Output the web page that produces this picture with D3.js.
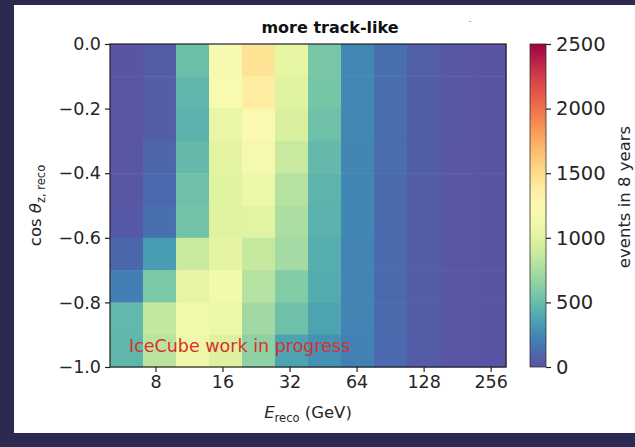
<!DOCTYPE html>
<html>
<head>
<meta charset="utf-8">
<script src="https://cdn.jsdelivr.net/npm/d3@7"></script>
<style>
  body { margin: 0; background: #2b2a50; }
  svg { display: block; }
  text { font-family: "DejaVu Sans", sans-serif; fill: #262626; }
</style>
</head>
<body>
<div id="plot"></div>
<script>
// reconstructed energy bin edges (GeV), 12 log bins
const eEdges = [5.0, 7.03, 9.89, 13.92, 19.58, 27.54, 38.74, 54.49, 76.65, 107.8, 151.7, 213.4, 300.0];
// cos(zenith) bin edges
const cosEdges = [-1.0, -0.9, -0.8, -0.7, -0.6, -0.5, -0.4, -0.3, -0.2, -0.1, 0.0];
// events per bin, rows from top (cos -0.1..0) down to bottom (cos -1..-0.9)
const counts = [
  [20, 55, 510, 1200, 1460, 1030, 560, 250, 140, 70, 35, 20],
  [25, 60, 460, 1190, 1390, 1000, 550, 250, 135, 65, 35, 20],
  [25, 60, 440, 1060, 1260, 960, 520, 250, 130, 65, 35, 20],
  [30, 100, 480, 1020, 1150, 880, 480, 245, 130, 65, 30, 20],
  [35, 115, 520, 1000, 1080, 800, 450, 240, 125, 60, 30, 20],
  [45, 140, 540, 990, 1010, 760, 440, 240, 125, 60, 30, 20],
  [110, 340, 880, 1020, 870, 730, 420, 235, 125, 60, 30, 20],
  [210, 570, 1040, 1120, 800, 600, 400, 230, 120, 60, 30, 20],
  [470, 860, 1120, 1080, 720, 520, 370, 230, 120, 60, 30, 20],
  [460, 820, 1100, 980, 640, 370, 290, 220, 115, 55, 30, 20]
];
const xTicks = [8, 16, 32, 64, 128, 256];
const yTicks = [0.0, -0.2, -0.4, -0.6, -0.8, -1.0];
const cTicks = [0, 500, 1000, 1500, 2000, 2500];

const W = 635, H = 447;
const plot = {left: 110, top: 44, width: 396, height: 323};
const cbar = {left: 530, width: 16};

const svg = d3.select("#plot").append("svg")
  .attr("width", W).attr("height", H);

// white figure area on the dark slide
svg.append("rect").attr("x", 14).attr("y", 5).attr("width", W - 14).attr("height", 428).attr("fill", "#ffffff");

const x = d3.scaleLog().base(2).domain([eEdges[0], eEdges[eEdges.length - 1]]).range([plot.left, plot.left + plot.width]);
const y = d3.scaleLinear().domain([-1, 0]).range([plot.top + plot.height, plot.top]);
const color = d3.scaleSequential(t => d3.interpolateSpectral(1 - t)).domain([0, 2500]);

// cells
const cells = [];
counts.forEach((row, r) => {
  const i = cosEdges.length - 2 - r;
  row.forEach((v, c) => cells.push({x0: eEdges[c], x1: eEdges[c + 1], y0: cosEdges[i], y1: cosEdges[i + 1], v: v}));
});
svg.append("g").selectAll("rect")
  .data(cells)
  .enter()
  .append("rect")
    .attr("x", d => x(d.x0))
    .attr("y", d => y(d.y1))
    .attr("width", d => x(d.x1) - x(d.x0) + 0.5)
    .attr("height", d => y(d.y0) - y(d.y1) + 0.5)
    .attr("fill", d => color(d.v));

// axes
const fmt = d3.format(".1f");
const yAxis = svg.append("g")
  .attr("transform", "translate(" + plot.left + ",0)")
  .call(d3.axisLeft(y).tickValues(yTicks).tickFormat(d => fmt(d).replace("-", "\u2212")).tickSize(5).tickPadding(4));
const xAxis = svg.append("g")
  .attr("transform", "translate(0," + (plot.top + plot.height) + ")")
  .call(d3.axisBottom(x).tickValues(xTicks).tickFormat(d3.format("d")).tickSize(5).tickPadding(4));
[xAxis, yAxis].forEach(a => {
  a.select(".domain").remove();
  a.selectAll("line").attr("stroke", "#222").attr("stroke-width", 1.2);
  a.selectAll("text").attr("font-size", 17.5).attr("fill", "#262626");
});

// frame
svg.append("rect")
  .attr("x", plot.left).attr("y", plot.top).attr("width", plot.width).attr("height", plot.height)
  .attr("fill", "none").attr("stroke", "#222").attr("stroke-width", 1.2);

// watermark
svg.append("text")
  .attr("x", 129).attr("y", 352)
  .attr("font-size", 17.5)
  .style("fill", "#d9302c")
  .text("IceCube work in progress");

// title
svg.append("text")
  .attr("x", 330).attr("y", 33)
  .attr("text-anchor", "middle")
  .attr("font-size", 16).attr("font-weight", "bold")
  .style("fill", "#111")
  .text("more track-like");
svg.append("text")
  .attr("x", 470).attr("y", 24)
  .attr("text-anchor", "middle")
  .attr("font-size", 9)
  .style("fill", "#999")
  .text("-");

// axis labels
const xl = svg.append("text")
  .attr("x", plot.left + plot.width / 2).attr("y", 418)
  .attr("text-anchor", "middle")
  .attr("font-size", 16.5);
xl.append("tspan").attr("font-style", "italic").text("E");
xl.append("tspan").attr("font-size", 11.5).attr("dy", 4).text("reco");
xl.append("tspan").attr("dy", -4).text(" (GeV)");

const yl = svg.append("text")
  .attr("transform", "translate(41," + (plot.top + plot.height / 2) + ") rotate(-90)")
  .attr("text-anchor", "middle")
  .attr("font-size", 16.5);
yl.append("tspan").text("cos ");
yl.append("tspan").attr("font-style", "italic").text("\u03b8");
yl.append("tspan").attr("font-size", 11.5).attr("dy", 4).text("z, reco");

// colorbar
const defs = svg.append("defs");
const grad = defs.append("linearGradient").attr("id", "cgrad")
  .attr("x1", 0).attr("y1", 1).attr("x2", 0).attr("y2", 0);
d3.range(0, 1.0001, 0.05).forEach(t => {
  grad.append("stop").attr("offset", t).attr("stop-color", color(t * 2500));
});
const cy = d3.scaleLinear().domain([0, 2500]).range([plot.top + plot.height, plot.top]);
svg.append("rect")
  .attr("x", cbar.left).attr("y", plot.top).attr("width", cbar.width).attr("height", plot.height)
  .attr("fill", "url(#cgrad)").attr("stroke", "#333").attr("stroke-width", 0.8);
const cAxis = svg.append("g")
  .attr("transform", "translate(" + (cbar.left + cbar.width) + ",0)")
  .call(d3.axisRight(cy).tickValues(cTicks).tickFormat(d3.format("d")).tickSize(5).tickPadding(5));
cAxis.select(".domain").remove();
cAxis.selectAll("line").attr("stroke", "#222").attr("stroke-width", 1.2);
cAxis.selectAll("text").attr("font-size", 19.5).attr("fill", "#262626");

svg.append("text")
  .attr("transform", "translate(630,197) rotate(-90)")
  .attr("text-anchor", "middle")
  .attr("font-size", 16.5)
  .text("events in 8 years");
</script>
</body>
</html>
